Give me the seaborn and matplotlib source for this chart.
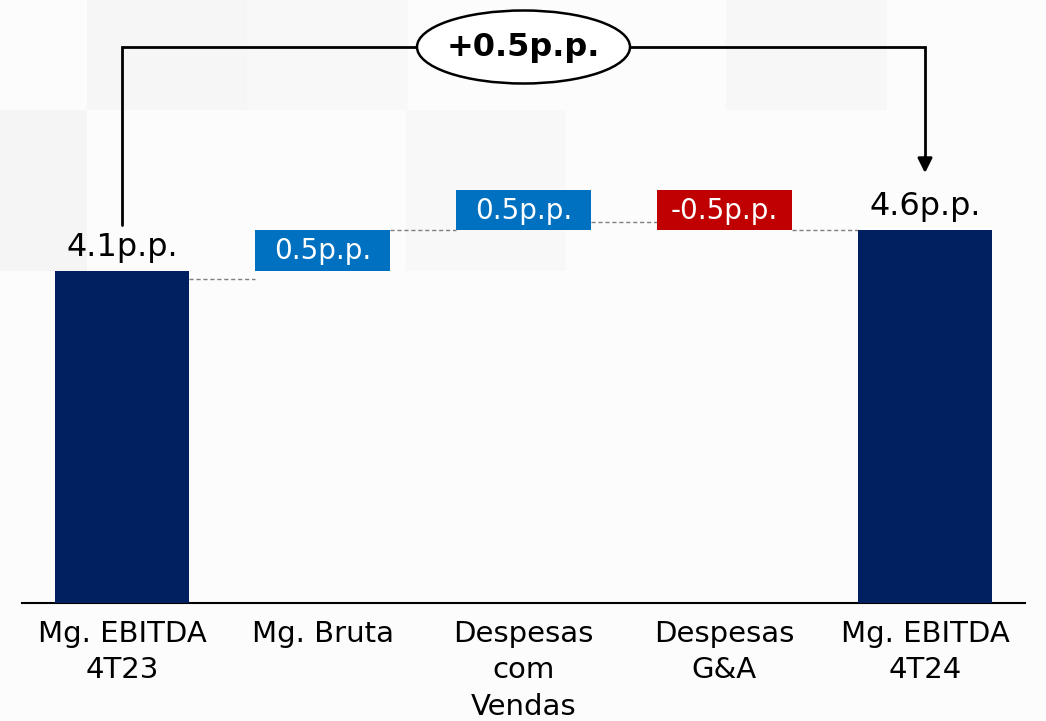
import matplotlib
matplotlib.use("Agg")
import matplotlib.pyplot as plt
from matplotlib.patches import Ellipse, Rectangle
import numpy as np
import seaborn as sns

# ---- data ----
categories = ["Mg. EBITDA\n4T23", "Mg. Bruta", "Despesas\ncom\nVendas", "Despesas\nG&A", "Mg. EBITDA\n4T24"]
start_value = 4.1
changes = [0.5, 0.5, -0.5]
end_value = 4.6
total_change_label = "+0.5p.p."
value_labels = ["4.1p.p.", "0.5p.p.", "0.5p.p.", "-0.5p.p.", "4.6p.p."]

# ---- waterfall geometry from the data ----
running = [start_value]
for c in changes:
    running.append(running[-1] + c)
bottoms = [0.0] + [min(running[i], running[i + 1]) for i in range(len(changes))] + [0.0]
heights = [start_value] + [abs(c) for c in changes] + [end_value]

NAVY = "#002060"
BLUE = "#0070C0"
RED = "#C00000"
bar_colors = [NAVY] + [BLUE if c > 0 else RED for c in changes] + [NAVY]

sns.set_style("white")
plt.rcParams["font.family"] = ["DejaVu Sans"]

fig = plt.figure(figsize=(10.46, 7.21), dpi=100)
fig.patch.set_facecolor("#fcfcfc")

# faint decorative tiles behind everything
bg = fig.add_axes([0, 0, 1, 1], zorder=-10)
bg.set_xlim(0, 1046)
bg.set_ylim(721, 0)
bg.axis("off")
tiles = [(87, 0, 160, 110, "#f6f6f6"), (247, 0, 161, 110, "#f8f8f8"),
         (726, 0, 161, 110, "#f7f7f7"), (0, 110, 87, 161, "#f5f5f5"),
         (406, 110, 160, 161, "#f8f8f8")]
for x0, y0, w, h, col in tiles:
    bg.add_patch(Rectangle((x0, y0), w, h, facecolor=col, edgecolor="none"))

PX_PER_UNIT = 81.0
PX_PER_CAT = 200.75
ax = fig.add_axes([(122 - PX_PER_CAT / 2) / 1046, (721 - 603) / 721,
                   5 * PX_PER_CAT / 1046, 603 / 721], zorder=1)
ax.set_facecolor("none")

BAR_W = 0.67
sns.barplot(x=categories, y=heights, bottom=bottoms, width=BAR_W,
            color=NAVY, saturation=1, ax=ax, zorder=3)
for patch, col in zip(ax.patches, bar_colors):
    patch.set_facecolor(col)
    patch.set_edgecolor("none")

ax.set_xlim(-0.5, 4.5)
ax.set_ylim(0, 603 / PX_PER_UNIT)

# labels: totals above, deltas inside the floating bars
for i, (b, h, lab) in enumerate(zip(bottoms, heights, value_labels)):
    if i in (0, len(categories) - 1):
        ax.text(i, b + h + 0.1, lab, ha="center", va="bottom", fontsize=23,
                color="black", zorder=5)
    else:
        ax.text(i, b + h / 2 - 0.01, lab, ha="center", va="center", fontsize=20,
                color="white", zorder=5)

# dashed connectors between consecutive bars
conn_levels = [running[0] - 0.1, running[1], running[1] + 0.1, running[3]]
for i, lvl in enumerate(conn_levels):
    ax.plot([i + BAR_W / 2, i + 1 - BAR_W / 2], [lvl, lvl], ls=(0, (3, 2)),
            lw=1.0, color="#7f7f7f", zorder=2)

# bracket with the overall change
top_y = (603 - 47) / PX_PER_UNIT
left_start = (603 - 225) / PX_PER_UNIT
arrow_tip = (603 - 173) / PX_PER_UNIT
ell_w = 213 / PX_PER_CAT
ell_h = 73 / PX_PER_UNIT
mid_x = 2.0
ax.plot([0, 0, mid_x - ell_w / 2], [left_start, top_y, top_y], color="black", lw=2,
        solid_joinstyle="miter", zorder=4)
ax.plot([mid_x + ell_w / 2, 4.0, 4.0], [top_y, top_y, arrow_tip + 0.15],
        color="black", lw=2, solid_joinstyle="miter", zorder=4)
ax.annotate("", xy=(4.0, arrow_tip), xytext=(4.0, arrow_tip + 0.2),
            arrowprops=dict(arrowstyle="-|>", color="black", lw=2,
                            mutation_scale=22, shrinkA=0, shrinkB=0), zorder=4)
ax.add_patch(Ellipse((mid_x, top_y), ell_w, ell_h, facecolor="white",
                     edgecolor="black", lw=1.8, zorder=5))
ax.text(mid_x, top_y - 0.01, total_change_label, ha="center", va="center",
        fontsize=23, fontweight="bold", color="black", zorder=6)

# axes styling
sns.despine(ax=ax, left=True, top=True, right=True)
ax.spines["bottom"].set_color("black")
ax.spines["bottom"].set_linewidth(1.5)
ax.set_yticks([])
ax.tick_params(axis="x", length=0, pad=12, labelsize=21, labelcolor="black")
for t in ax.get_xticklabels():
    t.set_linespacing(1.39)
    t.set_verticalalignment("top")
ax.set_xlabel("")
ax.set_ylabel("")

fig.savefig("out.png", dpi=100, facecolor=fig.get_facecolor())
